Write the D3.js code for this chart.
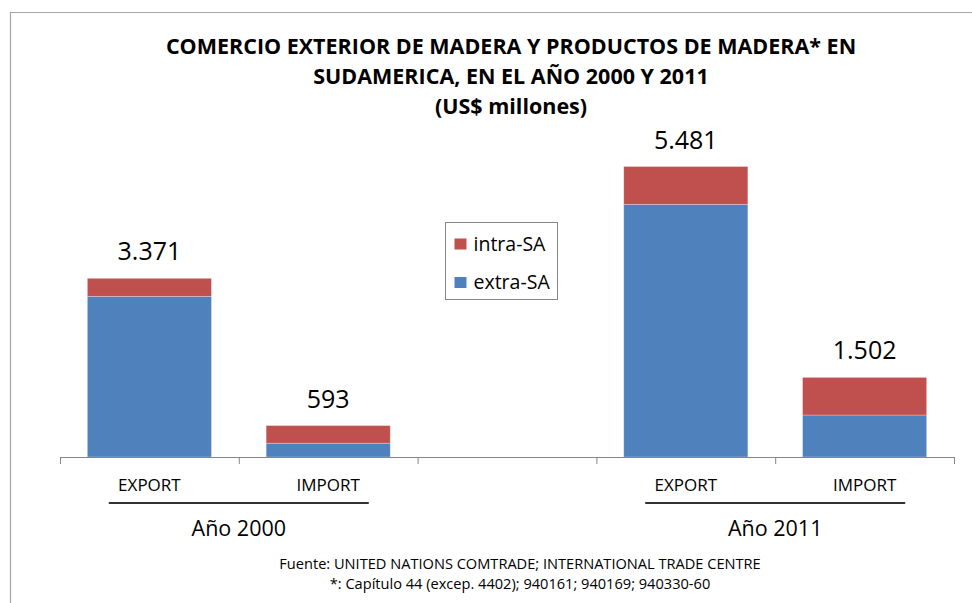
<!DOCTYPE html>
<html>
<head>
<meta charset="utf-8">
<script src="https://cdn.jsdelivr.net/npm/d3@7"></script>
<style>
  html, body { margin: 0; padding: 0; background: #fff; }
  svg { display: block; }
  svg text { font-family: "Open Sans", sans-serif; }
</style>
</head>
<body>
<svg id="chart"></svg>
<script>
/*
Data
*/

const categories = ["EXPORT", "IMPORT", "", "EXPORT", "IMPORT"];
const years      = ["Año 2000", "Año 2011"];
const yearOf     = [0, 0, null, 1, 1];

const extraSA = [3031, 260, 0, 4767, 792];
const intraSA = [340, 333, 0, 714, 710];
const totals  = ["3.371", "593", "", "5.481", "1.502"];

const seriesKeys   = ["extra", "intra"];
const seriesLabels = { extra: "extra-SA", intra: "intra-SA" };
const seriesColors = { extra: "#4f81bd", intra: "#c0504d" };

const titleLines = [
  "COMERCIO EXTERIOR DE MADERA Y PRODUCTOS DE MADERA* EN",
  "SUDAMERICA, EN EL AÑO 2000 Y 2011",
  "(US$ millones)"
];
const sourceLines = [
  "Fuente: UNITED NATIONS COMTRADE; INTERNATIONAL TRADE CENTRE",
  "*: Capítulo 44 (excep. 4402); 940161; 940169; 940330-60"
];

/*
Chart
*/

let StackedChart = function (config) {
  return this.__init__(config);
};

StackedChart.prototype = {

  __init__: function (config) {
    const self = this;

    self.width  = config.width;
    self.height = config.height;

    // plot area
    self.left   = 60;
    self.right  = 954;
    self.base   = 457;

    self.svg = d3.select(config.id)
      .attr("width", self.width)
      .attr("height", self.height)
      .attr("viewBox", "0 0 " + self.width + " " + self.height);

    self.rows = categories.map((c, i) => ({
      idx: i, extra: extraSA[i], intra: intraSA[i], label: totals[i]
    }));

    self.x = d3.scaleBand()
      .domain(d3.range(categories.length))
      .range([self.left, self.right])
      .paddingInner(0.306)
      .paddingOuter(0.153);

    self.y = d3.scaleLinear()
      .domain([0, 6000])
      .range([self.base, 139]);

    self.frame().title().bars().axis().legend().source();
    return self;
  },

  frame: function () {
    const self = this;
    self.svg.append("path")
      .attr("d", "M10.5," + (self.height + 2) + "V12.5H" + (self.width + 2))
      .attr("fill", "none")
      .attr("stroke", "#a6a6a6")
      .attr("stroke-width", 1.2);
    return self;
  },

  title: function () {
    const self = this;
    self.svg.append("text")
      .attr("x", 511)
      .attr("y", 54)
      .attr("text-anchor", "middle")
      .attr("font-weight", "bold")
      .attr("font-size", 21.5)
      .attr("fill", "#000")
      .selectAll("tspan")
      .data(titleLines)
      .enter()
      .append("tspan")
      .attr("x", 511)
      .attr("dy", (d, i) => i === 0 ? 0 : 30)
      .text(d => d);
    return self;
  },

  bars: function () {
    const self = this;
    const stacked = d3.stack().keys(seriesKeys)(self.rows);

    self.svg.append("g")
      .selectAll("g")
      .data(stacked)
      .enter()
      .append("g")
      .attr("fill", d => seriesColors[d.key])
      .selectAll("rect")
      .data(d => d.filter(p => p[1] > p[0]))
      .enter()
      .append("rect")
      .attr("x", d => self.x(d.data.idx))
      .attr("y", d => self.y(d[1]))
      .attr("width", self.x.bandwidth())
      .attr("height", d => self.y(d[0]) - self.y(d[1]))
      .attr("stroke", "#ffffff")
      .attr("stroke-opacity", 0.35)
      .attr("stroke-width", 0.8);

    self.svg.append("g")
      .selectAll("text")
      .data(self.rows.filter(r => r.label))
      .enter()
      .append("text")
      .attr("x", d => self.x(d.idx) + self.x.bandwidth() / 2)
      .attr("y", d => self.y(d.extra + d.intra) - 18)
      .attr("text-anchor", "middle")
      .attr("font-size", 25)
      .attr("fill", "#000")
      .text(d => d.label);
    return self;
  },

  axis: function () {
    const self = this;
    const cat = d3.scaleBand()
      .domain(d3.range(categories.length))
      .range([self.left, self.right]);

    const g = self.svg.append("g")
      .attr("transform", "translate(0," + self.base + ")");

    g.call(d3.axisBottom(cat).tickSize(0).tickFormat(i => categories[i]))
      .attr("font-family", null)
      .call(a => a.select(".domain")
        .attr("stroke", "#868686")
        .attr("d", "M" + self.left + ",0.5H" + self.right));

    g.selectAll(".tick text")
      .attr("y", 34)
      .attr("dy", 0)
      .attr("font-size", 17)
      .attr("fill", "#000");

    // tick marks sit between categories
    g.append("g")
      .selectAll("line")
      .data(d3.range(categories.length + 1))
      .enter()
      .append("line")
      .attr("x1", i => self.left + i * cat.step() + 0.5)
      .attr("x2", i => self.left + i * cat.step() + 0.5)
      .attr("y1", 0)
      .attr("y2", 7)
      .attr("stroke", "#868686");

    // year groups
    const groups = years.map((yr, k) => {
      const members = d3.range(categories.length).filter(i => yearOf[i] === k);
      const c0 = cat(members[0]) + cat.bandwidth() / 2;
      const c1 = cat(members[members.length - 1]) + cat.bandwidth() / 2;
      return { label: yr, mid: (c0 + c1) / 2 };
    });

    const gg = g.selectAll(".grp")
      .data(groups)
      .enter()
      .append("g")
      .classed("grp", true);

    gg.append("line")
      .attr("x1", d => d.mid - 130)
      .attr("x2", d => d.mid + 130)
      .attr("y1", 46)
      .attr("y2", 46)
      .attr("stroke", "#333")
      .attr("stroke-width", 2);

    gg.append("text")
      .attr("x", d => d.mid)
      .attr("y", 79)
      .attr("text-anchor", "middle")
      .attr("font-size", 21.5)
      .attr("fill", "#000")
      .text(d => d.label);
    return self;
  },

  legend: function () {
    const self = this;
    const order = ["intra", "extra"];
    const lg = self.svg.append("g")
      .attr("transform", "translate(445.5,222.5)");

    lg.append("rect")
      .attr("width", 112)
      .attr("height", 77)
      .attr("fill", "#fff")
      .attr("stroke", "#868686");

    const item = lg.selectAll(".item")
      .data(order)
      .enter()
      .append("g")
      .attr("transform", (d, i) => "translate(9," + (16 + i * 38.5) + ")");

    item.append("rect")
      .attr("width", 12)
      .attr("height", 11)
      .attr("fill", d => seriesColors[d]);

    item.append("text")
      .attr("x", 19)
      .attr("y", 12)
      .attr("font-size", 19.5)
      .attr("fill", "#000")
      .text(d => seriesLabels[d]);
    return self;
  },

  source: function () {
    const self = this;
    self.svg.append("g")
      .selectAll("text")
      .data(sourceLines)
      .enter()
      .append("text")
      .attr("x", 520)
      .attr("y", (d, i) => 569 + i * 20)
      .attr("text-anchor", "middle")
      .attr("font-size", 14.6)
      .attr("fill", "#000")
      .text(d => d);
    return self;
  }
};

new StackedChart({ id: "#chart", width: 972, height: 603 });
</script>
</body>
</html>
